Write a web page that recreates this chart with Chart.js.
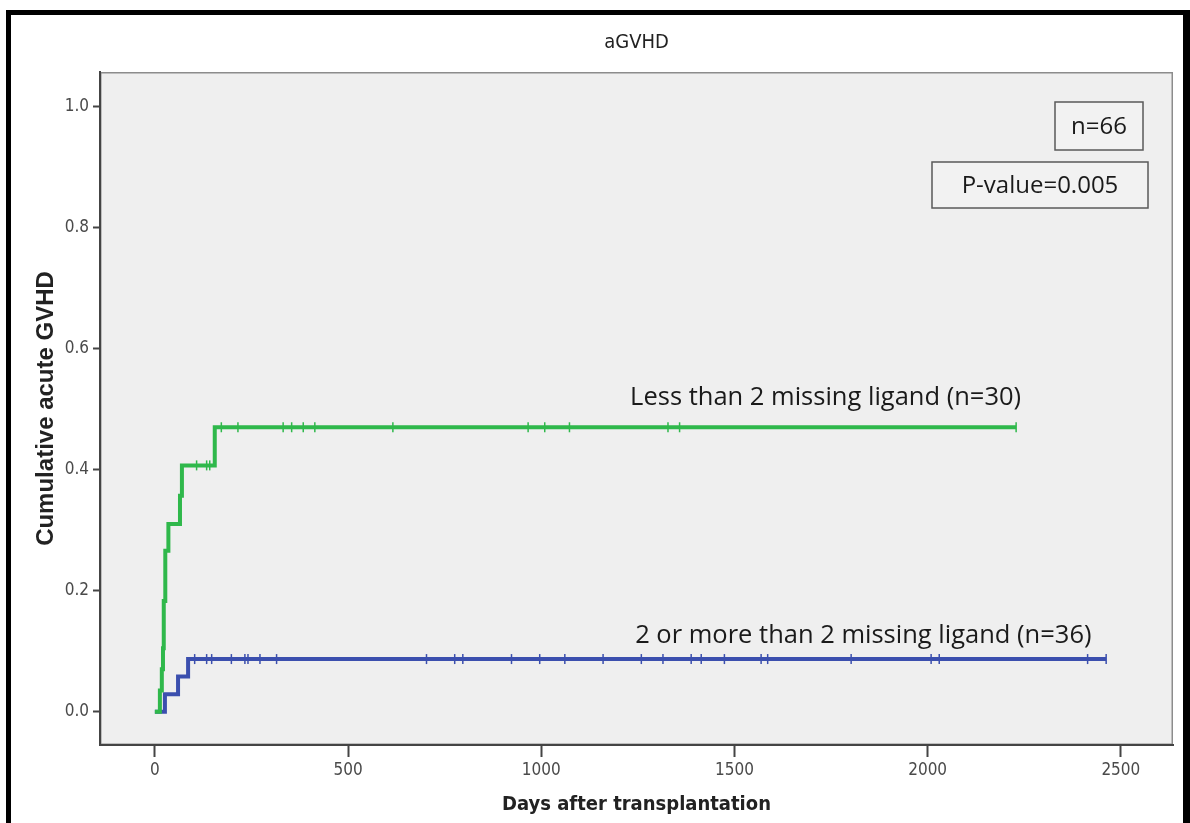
<!DOCTYPE html>
<html><head><meta charset="utf-8">
<script src="https://cdn.jsdelivr.net/npm/chart.js@4/dist/chart.umd.min.js"></script>
<style>
html,body{margin:0;padding:0;background:#fff;overflow:hidden;}
#wrap{position:relative;width:1190px;height:823px;overflow:hidden;}
#frame{position:absolute;left:6px;top:10px;width:1172px;height:900px;border-left:5px solid #000;border-top:5px solid #000;border-right:7px solid #000;pointer-events:none;}
canvas{position:absolute;left:0;top:0;}
</style></head>
<body>
<div id="wrap"><canvas id="c" width="1190" height="823"></canvas><div id="frame"></div></div>
<script>
// ---- data ----
const chartTitle = "aGVHD";
const xTitle = "Days after transplantation";
const yTitle = "Cumulative acute GVHD";
const xTicks = [0, 500, 1000, 1500, 2000, 2500];
const yTicks = [0.0, 0.2, 0.4, 0.6, 0.8, 1.0];

const lessLabel = "Less than 2 missing ligand (n=30)";
const lessTimes = [0, 13, 18, 21, 23, 27, 35, 65, 70, 155, 2229];
const lessCum   = [0, 0.035, 0.07, 0.105, 0.183, 0.266, 0.31, 0.357, 0.407, 0.47, 0.47];
const lessCensored = [108, 134, 142, 172, 215, 332, 354, 384, 414, 616, 966, 1009, 1073, 1328, 1358, 2229];

const moreLabel = "2 or more than 2 missing ligand (n=36)";
const moreTimes = [0, 26, 60, 86, 2462];
const moreCum   = [0, 0.029, 0.058, 0.087, 0.087];
const moreCensored = [103, 134, 147, 198, 233, 241, 272, 315, 703, 776, 797, 923, 996, 1061, 1160, 1259, 1315, 1388, 1414, 1474, 1569, 1586, 1802, 2009, 2030, 2414, 2462];

const nText = "n=66";
const pText = "P-value=0.005";

// ---- helpers ----
function stepAt(times, cum, t){ let v = cum[0]; for (let i=0;i<times.length;i++){ if (times[i] <= t) v = cum[i]; } return v; }
const GREEN = '#2fb84b', BLUE = '#3b4fae';
const NARROW = '"Liberation Sans Narrow", "DejaVu Sans Condensed", "Liberation Sans", sans-serif';
const SANS = '"Liberation Sans", Arial, sans-serif';
const CAL = '"Open Sans", Lato, sans-serif';

const plotBg = {
  id: 'plotBg',
  beforeDraw(chart){
    const {ctx, chartArea:a} = chart;
    ctx.save();
    ctx.fillStyle = '#fff'; ctx.fillRect(0,0,chart.width,chart.height);
    ctx.fillStyle = '#efefef'; ctx.fillRect(a.left, a.top, a.right-a.left, a.bottom-a.top);
    ctx.strokeStyle = '#8c8c8c'; ctx.lineWidth = 1.5;
    ctx.strokeRect(a.left+0.75, a.top+0.75, a.right-a.left-1.5, a.bottom-a.top-1.5);
    ctx.restore();
  }
};

const annots = {
  id: 'annots',
  afterDatasetsDraw(chart){
    const {ctx, chartArea:a, scales:{x, y}} = chart;
    ctx.save();
    ctx.fillStyle = '#1a1a1a';
    ctx.font = '25.5px ' + CAL;
    ctx.textBaseline = 'middle'; ctx.textAlign = 'left';
    ctx.fillText(lessLabel, x.getPixelForValue(1230), y.getPixelForValue(0.518));
    ctx.fillText(moreLabel, x.getPixelForValue(1243), y.getPixelForValue(0.125));
    ctx.font = '24px ' + CAL;
    function box(l, t, r, b, txt){
      ctx.fillStyle = '#f2f2f2'; ctx.fillRect(l, t, r-l, b-t);
      ctx.strokeStyle = '#5a5a5a'; ctx.lineWidth = 1.5; ctx.strokeRect(l, t, r-l, b-t);
      ctx.fillStyle = '#1a1a1a'; ctx.textAlign = 'center';
      ctx.fillText(txt, (l+r)/2, (t+b)/2 + 1);
    }
    box(a.right-118, a.top+30, a.right-30, a.top+78, nText);
    box(a.right-241, a.top+90, a.right-25, a.top+136, pText);
    ctx.restore();
  }
};

new Chart(document.getElementById('c'), {
  type: 'line',
  data: {
    datasets: [
      { label: lessLabel, data: lessTimes.map((t,i)=>({x:t, y:lessCum[i]})), borderColor: GREEN, borderWidth: 4, stepped: 'before', pointRadius: 0, fill: false },
      { label: moreLabel, data: moreTimes.map((t,i)=>({x:t, y:moreCum[i]})), borderColor: BLUE, borderWidth: 4, stepped: 'before', pointRadius: 0, fill: false },
      { type: 'scatter', label: 'less censored', data: lessCensored.map(t=>({x:t, y:stepAt(lessTimes, lessCum, t)})), showLine: false, pointStyle: 'line', rotation: 90, pointRadius: 5, borderColor: GREEN, borderWidth: 1.5 },
      { type: 'scatter', label: 'more censored', data: moreCensored.map(t=>({x:t, y:stepAt(moreTimes, moreCum, t)})), showLine: false, pointStyle: 'line', rotation: 90, pointRadius: 5, borderColor: BLUE, borderWidth: 1.5 }
    ]
  },
  options: {
    responsive: false, animation: false, devicePixelRatio: 1,
    layout: { padding: { left: 0, right: 17, top: 0, bottom: 0 } },
    plugins: {
      legend: { display: false }, tooltip: { enabled: false },
      title: { display: true, text: chartTitle, fullSize: false, color: '#222', font: { family: NARROW, size: 20, weight: 'normal' }, padding: { top: 31, bottom: 17 } }
    },
    scales: {
      x: {
        type: 'linear', min: -142, max: 2635,
        afterBuildTicks: s => { s.ticks = xTicks.map(v=>({value:v})); },
        afterFit: s => { s.height = 78; },
        grid: { display: true, drawOnChartArea: false, drawTicks: true, tickLength: 12, tickWidth: 2, tickColor: '#444', color: '#444' },
        border: { display: true, color: '#444', width: 2 },
        ticks: { color: '#4a4a4a', font: { family: NARROW, size: 17 }, padding: 3, maxRotation: 0, callback: v => String(v) },
        title: { display: true, text: xTitle, color: '#222', font: { family: NARROW, size: 20, weight: 'bold' }, padding: { top: 0, bottom: 6 } }
      },
      y: {
        type: 'linear', min: -0.055, max: 1.057,
        afterBuildTicks: s => { s.ticks = yTicks.map(v=>({value:v})); },
        afterFit: s => { s.width = 100; },
        grid: { display: true, drawOnChartArea: false, drawTicks: true, tickLength: 7, tickWidth: 2, tickColor: '#444', color: '#444' },
        border: { display: true, color: '#444', width: 2 },
        ticks: { color: '#4a4a4a', font: { family: NARROW, size: 17 }, padding: 4, callback: v => Number(v).toFixed(1) },
        title: { display: true, text: yTitle, color: '#222', font: { family: SANS, size: 24, weight: 'bold' }, padding: { top: 32, bottom: 0 } }
      }
    }
  },
  plugins: [plotBg, annots]
});
</script>
</body></html>
